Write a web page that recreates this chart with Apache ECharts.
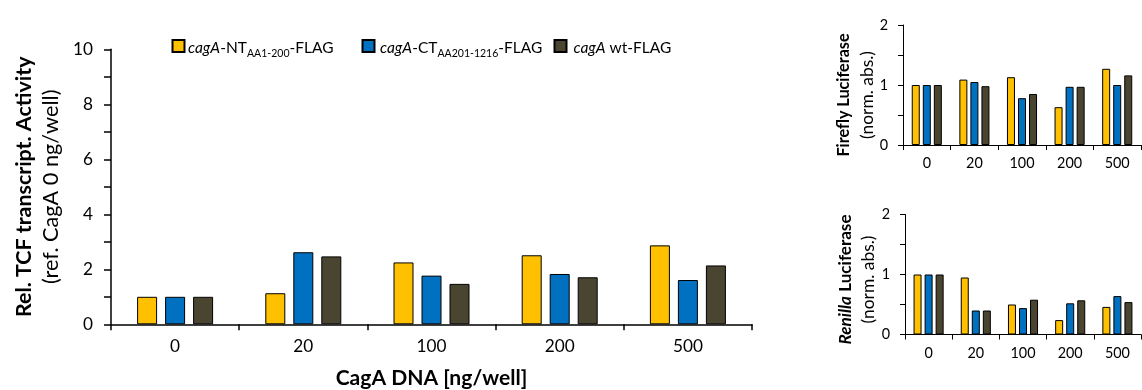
<!DOCTYPE html>
<html>
<head>
<meta charset="utf-8">
<script src="https://cdn.jsdelivr.net/npm/echarts@6/dist/echarts.min.js"></script>
<style>html,body{margin:0;padding:0;background:#fff;}#c{width:1142px;height:390px;}</style>
</head>
<body>
<div id="c"></div>
<script>
const categories = ['0', '20', '100', '200', '500'];
const seriesNames = ['cagA-NT AA1-200-FLAG', 'cagA-CT AA201-1216-FLAG', 'cagA wt-FLAG'];
const colors = ['#FFC000', '#0070C0', '#4A4530'];

// Main chart: Rel. TCF transcript. Activity
const tcfNT = [1.0, 1.13, 2.25, 2.51, 2.87];
const tcfCT = [1.0, 2.62, 1.77, 1.83, 1.61];
const tcfWT = [1.0, 2.47, 1.47, 1.71, 2.14];

// Firefly luciferase (norm. abs.)
const ffNT = [1.0, 1.09, 1.13, 0.63, 1.27];
const ffCT = [1.0, 1.05, 0.78, 0.97, 1.0];
const ffWT = [1.0, 0.98, 0.85, 0.97, 1.16];

// Renilla luciferase (norm. abs.)
const rnNT = [1.0, 0.95, 0.50, 0.24, 0.46];
const rnCT = [1.0, 0.40, 0.44, 0.52, 0.64];
const rnWT = [1.0, 0.40, 0.58, 0.57, 0.54];

const FONT = 'Lato';

// font-size fitting helpers (match text widths seen in the reference)
const mctx = document.createElement('canvas').getContext('2d');
function tw(text, size, bold, italic) {
  mctx.font = (italic ? 'italic ' : '') + (bold ? 'bold ' : '') + size + 'px ' + FONT;
  return mctx.measureText(text).width;
}
function fit(segs, target) {
  let tot = 0;
  segs.forEach(s => { tot += tw(s[0], 100 * (s[1] || 1), s[2], s[3]); });
  return Math.round(100 * target / tot * 10) / 10;
}
const SUB = 0.68;
const legSize = (fit([['cagA', 1, 0, 1], ['-NT'], ['AA1-200', SUB], ['-FLAG']], 146) +
                 fit([['cagA', 1, 0, 1], ['-CT'], ['AA201-1216', SUB], ['-FLAG']], 160) +
                 fit([['cagA', 1, 0, 1], [' wt-FLAG']], 99)) / 3;
const mainNameB = fit([['Rel. TCF transcript. Activity', 1, 1]], 261);
const mainNameN = fit([['(ref. CagA 0 ng/well)']], 195);
const xNameSize = fit([['CagA DNA [ng/well]', 1, 1]], 192);
const ffB = fit([['Firefly Luciferase', 1, 1]], 123);
const rnB = fit([['Renilla', 1, 1, 1], [' Luciferase', 1, 1]], 130);
const normN = fit([['(norm. abs.)']], 88);
const mainTick = fit([['100']], 30);
const smTick = fit([['100']], 25);

const chart = echarts.init(document.getElementById('c'), null, {renderer: 'canvas'});

function xAxis(gi, fs, margin, tickLen, lw, name) {
  return {
    type: 'category', gridIndex: gi, data: categories,
    axisLine: {lineStyle: {color: '#000', width: lw}},
    axisTick: {show: true, length: tickLen, inside: false, lineStyle: {color: '#000', width: lw}},
    axisLabel: {color: '#000', fontFamily: FONT, fontSize: fs, margin: margin},
    name: name || '', nameLocation: 'middle', nameGap: 43,
    nameTextStyle: {color: '#000', fontFamily: FONT, fontSize: xNameSize, fontWeight: 'bold'}
  };
}
function yAxis(gi, max, interval, fs, margin, tickLen, lw, name, nameGap, rich, shift) {
  return {
    type: 'value', gridIndex: gi, min: 0, max: max, interval: interval,
    axisLine: {show: true, lineStyle: {color: '#000', width: lw}},
    axisTick: {show: true, length: tickLen, lineStyle: {color: '#000', width: lw}},
    minorTick: {show: true, splitNumber: 2, length: tickLen, lineStyle: {color: '#000', width: lw}},
    splitLine: {show: false},
    axisLabel: {color: '#000', fontFamily: FONT, fontSize: fs, margin: margin},
    name: name, nameLocation: 'middle', nameGap: nameGap, nameRotate: 90,
    nameTextStyle: {color: '#000', fontFamily: FONT, rich: rich, padding: [0, shift, 0, 0]}
  };
}

function bars(gi, data, idx, bw, gap) {
  return {
    type: 'bar', name: seriesNames[idx], xAxisIndex: gi, yAxisIndex: gi, data: data,
    barWidth: bw, barGap: gap,
    itemStyle: {color: colors[idx], borderColor: '#000', borderWidth: 1},
    emphasis: {disabled: true}
  };
}

const legendRich = {
  i: {fontFamily: FONT, fontSize: legSize, fontStyle: 'italic', color: '#000', lineHeight: 20, verticalAlign: 'bottom'},
  n: {fontFamily: FONT, fontSize: legSize, color: '#000', lineHeight: 20, verticalAlign: 'bottom'},
  s: {fontFamily: FONT, fontSize: legSize * SUB, color: '#000', lineHeight: 20, verticalAlign: 'bottom', padding: [0, 0, -3, 0]}
};
const legendText = {
  'cagA-NT AA1-200-FLAG': '{i|cagA}{n|-NT}{s|AA1-200}{n|-FLAG}',
  'cagA-CT AA201-1216-FLAG': '{i|cagA}{n|-CT}{s|AA201-1216}{n|-FLAG}',
  'cagA wt-FLAG': '{i|cagA}{n| wt-FLAG}'
};
function legend(idx, left, padLeft) {
  return {
    data: [seriesNames[idx]], left: left, top: 39, itemWidth: 12, itemHeight: 12, itemGap: 0,
    icon: 'rect', selectedMode: false, padding: 0,
    formatter: function (n) { return legendText[n]; },
    textStyle: {rich: legendRich, padding: [0, 0, 0, padLeft]}
  };
}

const mainBW = 20, mainGap = '40%';
const smBW = 8, smGap = '38%';

const bigRich = {
  b: {fontFamily: FONT, fontSize: mainNameB, fontWeight: 'bold', color: '#000', lineHeight: 27.5},
  n: {fontFamily: FONT, fontSize: mainNameN, color: '#000', lineHeight: 27.5}
};
const ffRich = {
  b: {fontFamily: FONT, fontSize: ffB, fontWeight: 'bold', color: '#000', lineHeight: 23},
  n: {fontFamily: FONT, fontSize: normN, color: '#000', lineHeight: 23}
};
const rnRich = {
  bi: {fontFamily: FONT, fontSize: rnB, fontWeight: 'bold', fontStyle: 'italic', color: '#000', lineHeight: 23},
  b: {fontFamily: FONT, fontSize: rnB, fontWeight: 'bold', color: '#000', lineHeight: 23},
  n: {fontFamily: FONT, fontSize: normN, color: '#000', lineHeight: 23}
};

chart.setOption({
  animation: false,
  backgroundColor: '#fff',
  grid: [
    {left: 111, right: 390, top: 49.3, height: 275, outerBoundsMode: 'none', containLabel: false},
    {left: 903, right: 1, top: 25, height: 120, outerBoundsMode: 'none', containLabel: false},
    {left: 905, right: 1, top: 214.5, height: 120, outerBoundsMode: 'none', containLabel: false}
  ],
  legend: [legend(0, 171.5, -1.5), legend(1, 361.5, 0.5), legend(2, 553.5, 2)],
  xAxis: [
    xAxis(0, mainTick, 14, 6, 1.5, 'CagA DNA [ng/well]'),
    xAxis(1, smTick, 11, 5, 1),
    xAxis(2, smTick, 12, 5, 1)
  ],
  yAxis: [
    yAxis(0, 10, 2, mainTick, 18, 7, 1.5,
      '{b|Rel. TCF transcript. Activity}\n{n|(ref. CagA 0 ng/well)}', 44, bigRich, 0),
    yAxis(1, 2, 1, smTick, 15, 5, 1,
      '{b|Firefly Luciferase}\n{n|(norm. abs.)}', 23.5, ffRich, 20),
    yAxis(2, 2, 1, smTick, 15, 5, 1,
      '{bi|Renilla}{b| Luciferase}\n{n|(norm. abs.)}', 25, rnRich, 10)
  ],
  series: [
    bars(0, tcfNT, 0, mainBW, mainGap), bars(0, tcfCT, 1, mainBW, mainGap), bars(0, tcfWT, 2, mainBW, mainGap),
    bars(1, ffNT, 0, smBW, smGap), bars(1, ffCT, 1, smBW, smGap), bars(1, ffWT, 2, smBW, smGap),
    bars(2, rnNT, 0, smBW, smGap), bars(2, rnCT, 1, smBW, smGap), bars(2, rnWT, 2, smBW, smGap)
  ]
});
</script>
</body>
</html>
